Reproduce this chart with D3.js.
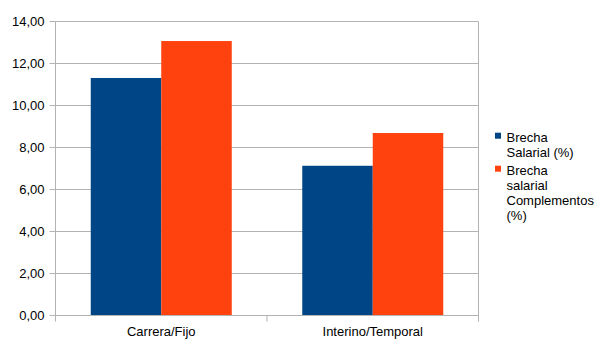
<!DOCTYPE html>
<html>
<head>
<meta charset="utf-8">
<script src="https://cdn.jsdelivr.net/npm/d3@7"></script>
<style>
  html, body { margin: 0; padding: 0; background: #fff; }
  svg { display: block; font-family: "Liberation Sans", Arial, sans-serif; }
</style>
</head>
<body>
<svg id="chart" width="605" height="340"></svg>
<script>
// Wage gap by contract type
const categories = ["Carrera/Fijo", "Interino/Temporal"];
const seriesNames = ["Brecha Salarial (%)", "Brecha salarial Complementos (%)"];
const brechaSalarial = [11.31, 7.13];
const brechaComplementos = [13.07, 8.69];
const yTicks = [0, 2, 4, 6, 8, 10, 12, 14];
const legendLines = [["Brecha", "Salarial (%)"], ["Brecha", "salarial", "Complementos", "(%)"]];
const colors = ["#004586", "#ff420e"];

const seriesValues = [brechaSalarial, brechaComplementos];
const rows = categories.map((c, i) => ({ cat: c, vals: seriesValues.map(s => s[i]) }));

const svg = d3.select("#chart");
const plotLeft = 55.5, plotRight = 478.5, plotTop = 21.5, plotBottom = 315.5;

const y = d3.scaleLinear().domain([0, 14]).range([plotBottom, plotTop]);
const x = d3.scaleBand().domain(categories).range([plotLeft, plotRight]).paddingInner(0).paddingOuter(0);
const xs = d3.scaleBand().domain(d3.range(seriesNames.length)).range([0, x.bandwidth()])
  .paddingInner(0).paddingOuter(0.5);

const gridColor = "#b3b3b3";

// horizontal grid lines
svg.append("g").selectAll("line").data(yTicks).join("line")
  .attr("x1", plotLeft - 6).attr("x2", plotRight)
  .attr("y1", d => y(d)).attr("y2", d => y(d))
  .attr("stroke", gridColor).attr("stroke-width", 1);

// plot frame sides
svg.append("line").attr("x1", plotLeft).attr("x2", plotLeft).attr("y1", plotTop).attr("y2", plotBottom)
  .attr("stroke", gridColor);
svg.append("line").attr("x1", plotRight).attr("x2", plotRight).attr("y1", plotTop).attr("y2", plotBottom + 6)
  .attr("stroke", gridColor);

// category boundary ticks
const boundaries = categories.map(c => x(c)).concat([plotRight]);
svg.append("g").selectAll("line").data(boundaries).join("line")
  .attr("x1", d => d).attr("x2", d => d)
  .attr("y1", plotBottom).attr("y2", plotBottom + 6)
  .attr("stroke", gridColor);

// bars
const groups = svg.append("g").selectAll("g").data(rows).join("g")
  .attr("transform", d => `translate(${x(d.cat)},0)`);
groups.selectAll("rect").data(d => d.vals.map((v, i) => ({ v, i }))).join("rect")
  .attr("x", d => xs(d.i))
  .attr("width", xs.bandwidth())
  .attr("y", d => y(d.v))
  .attr("height", d => y(0) - y(d.v))
  .attr("fill", d => colors[d.i]);

// redraw baseline over bars
svg.append("line").attr("x1", plotLeft).attr("x2", plotRight).attr("y1", plotBottom).attr("y2", plotBottom)
  .attr("stroke", gridColor);

// y tick labels
const fmt = v => d3.format(".2f")(v).replace(".", ",");
svg.append("g").selectAll("text").data(yTicks).join("text")
  .attr("x", 44.5).attr("y", d => y(d) + 4.5)
  .attr("text-anchor", "end").attr("font-size", 13).attr("fill", "#000")
  .text(fmt);

// category labels
svg.append("g").selectAll("text").data(categories).join("text")
  .attr("x", d => x(d) + x.bandwidth() / 2).attr("y", 336)
  .attr("text-anchor", "middle").attr("font-size", 13).attr("fill", "#000")
  .text(d => d);

// legend
const legendTop = [142, 175];
const lg = svg.append("g").selectAll("g").data(seriesNames).join("g");
lg.append("rect")
  .attr("x", 495).attr("y", (d, i) => legendTop[i] - 9.3)
  .attr("width", 6).attr("height", 6)
  .attr("fill", (d, i) => colors[i]);
lg.append("text")
  .attr("font-size", 13).attr("fill", "#000")
  .selectAll("tspan").data((d, i) => legendLines[i].map((t, j) => ({ t, j, i }))).join("tspan")
  .attr("x", 506.5).attr("y", d => legendTop[d.i] + d.j * 15)
  .text(d => d.t);
</script>
</body>
</html>
